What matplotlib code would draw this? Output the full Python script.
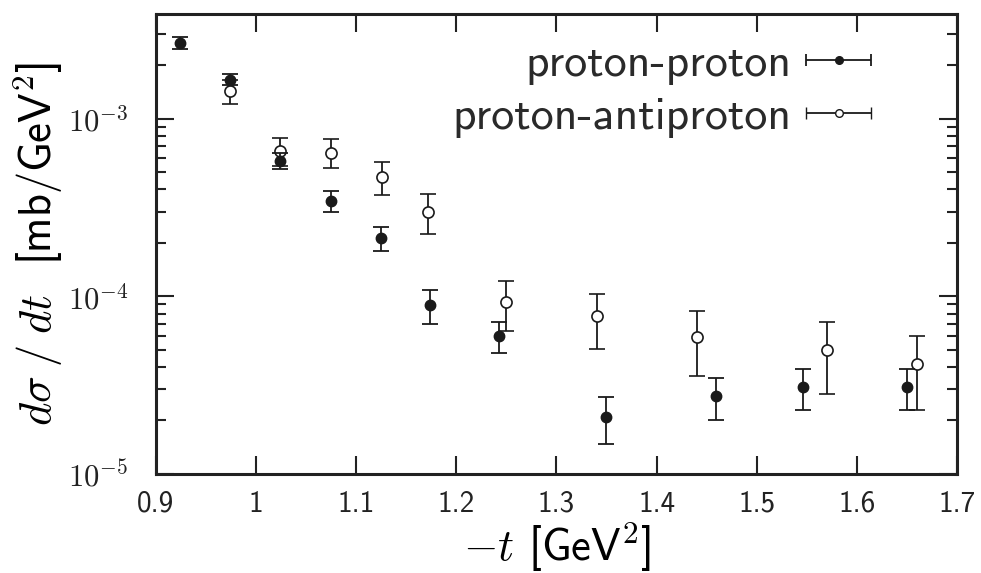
"""Differential cross section dsigma/dt for pp and p-pbar elastic scattering."""

import matplotlib

matplotlib.use("Agg")
import matplotlib.pyplot as plt
from matplotlib.legend_handler import HandlerErrorbar
from matplotlib.ticker import FixedLocator, LogLocator, NullFormatter

plt.rcParams["mathtext.fontset"] = "cm"
plt.rcParams["font.family"] = ["cmss10", "DejaVu Sans"]
plt.rcParams["axes.unicode_minus"] = False

# proton-proton (filled)
pp_t = [0.924, 0.974, 1.024, 1.075, 1.125, 1.174, 1.243, 1.349, 1.459, 1.546, 1.650]
pp_sig = [2.67e-3, 1.66e-3, 5.8e-4, 3.45e-4, 2.13e-4, 8.9e-5, 6.0e-5, 2.1e-5, 2.75e-5, 3.1e-5, 3.1e-5]
pp_err = [0.2e-3, 0.12e-3, 0.6e-4, 0.45e-4, 0.33e-4, 1.9e-5, 1.2e-5, 0.62e-5, 0.73e-5, 0.8e-5, 0.8e-5]

# proton-antiproton (open)
pbar_t = [0.974, 1.024, 1.075, 1.126, 1.172, 1.250, 1.340, 1.440, 1.570, 1.660]
pbar_sig = [1.43e-3, 6.6e-4, 6.45e-4, 4.7e-4, 3.0e-4, 9.3e-5, 7.7e-5, 5.9e-5, 5.0e-5, 4.15e-5]
pbar_err = [0.22e-3, 1.2e-4, 1.2e-4, 1.0e-4, 0.77e-4, 2.9e-5, 2.65e-5, 2.35e-5, 2.2e-5, 1.85e-5]

x_ticks = [0.9, 1.0, 1.1, 1.2, 1.3, 1.4, 1.5, 1.6, 1.7]
x_labels = ["0.9", "1", "1.1", "1.2", "1.3", "1.4", "1.5", "1.6", "1.7"]
y_ticks = [1e-5, 1e-4, 1e-3]
y_labels = [r"$10^{-5}$", r"$10^{-4}$", r"$10^{-3}$"]

INK = "#1a1a1a"
NAN = [float("nan")]

fig = plt.figure(figsize=(9.81, 5.73), dpi=100)
ax = fig.add_axes([0.159, 0.173, 0.8165, 0.803])

style = dict(color=INK, elinewidth=1.3, capthick=1.3, linestyle="none")
ax.errorbar(pp_t, pp_sig, yerr=pp_err, fmt="o", mfc=INK, mec=INK, markersize=7.5, capsize=6,
            zorder=3, **style)
ax.errorbar(pbar_t, pbar_sig, yerr=pbar_err, fmt="o", mfc="white", mec=INK, mew=1.2,
            markersize=8, capsize=6, zorder=2, **style)

# legend proxies with horizontal bars
h_pp = ax.errorbar(NAN, NAN, xerr=NAN, fmt="o", mfc=INK, mec=INK, markersize=5.5, capsize=4, **style)
h_pb = ax.errorbar(NAN, NAN, xerr=NAN, fmt="o", mfc="white", mec=INK, mew=1.0, markersize=5.5,
                   capsize=4, **style)
leg = ax.legend([h_pp, h_pb], ["proton-proton", "proton-antiproton"], loc="upper right",
                bbox_to_anchor=(0.893, 0.935), frameon=False, markerfirst=False, fontsize=33,
                handlelength=1.42, handletextpad=0.33, labelspacing=0.27, borderpad=0,
                borderaxespad=0, handler_map={type(h_pp): HandlerErrorbar(xerr_size=0.71)})
for txt in leg.get_texts():
    txt.set_color("#2a2a2a")

ax.set_yscale("log")
ax.set_xlim(0.9, 1.7)
ax.set_ylim(1e-5, 3.9e-3)
ax.xaxis.set_major_locator(FixedLocator(x_ticks))
ax.set_xticklabels(x_labels)
ax.yaxis.set_major_locator(FixedLocator(y_ticks))
ax.set_yticklabels(y_labels)
ax.yaxis.set_minor_locator(LogLocator(base=10, subs=range(2, 10)))
ax.yaxis.set_minor_formatter(NullFormatter())

ax.tick_params(which="both", direction="in", top=True, right=True, width=1.5, colors="#222222")
ax.tick_params(which="major", length=13)
ax.tick_params(which="minor", length=7)
ax.tick_params(axis="x", labelsize=21, pad=12)
ax.tick_params(axis="y", labelsize=22, pad=20)
for side in ax.spines.values():
    side.set_linewidth(2.2)
    side.set_color("#222222")

ax.set_xlabel(r"$-t$ [GeV$^{\mathsf{2}}$]", fontsize=32, labelpad=2)
ax.set_ylabel(r"$d\sigma\;/\;dt$  [mb/GeV$^{\mathsf{2}}$]", fontsize=32, labelpad=2)

fig.savefig("out.png", dpi=100)
